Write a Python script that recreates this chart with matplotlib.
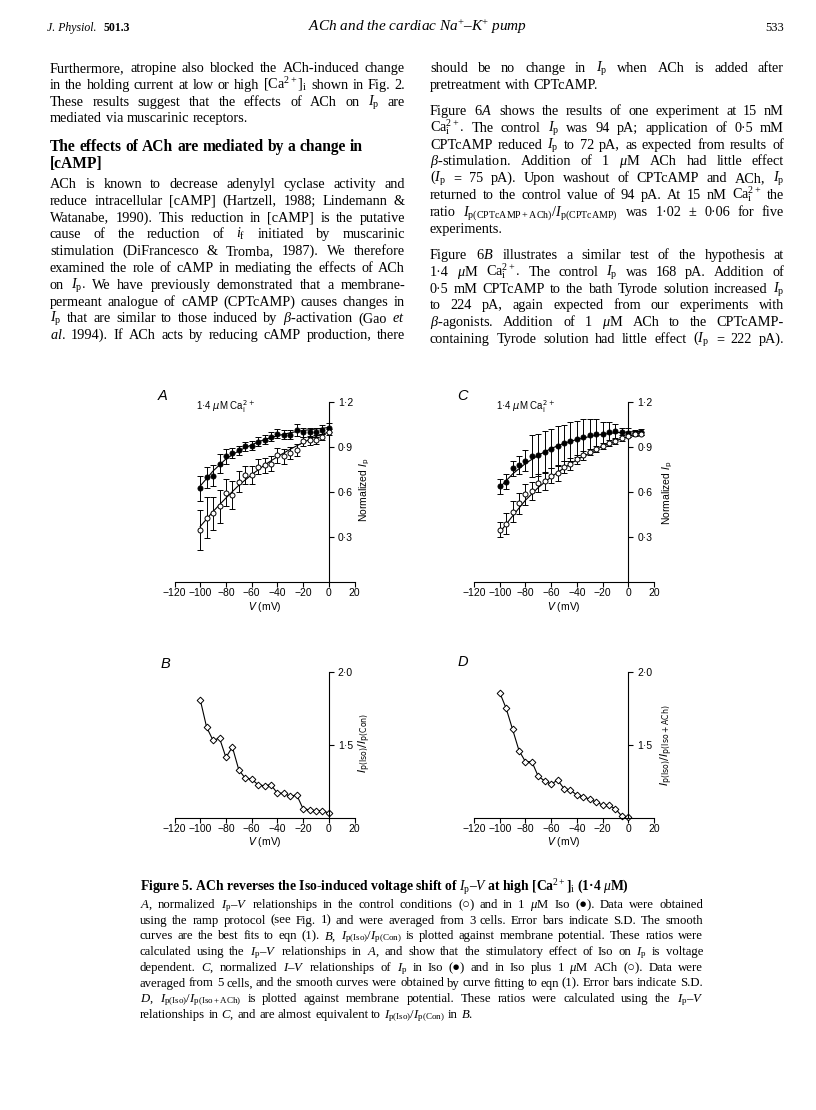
import matplotlib
matplotlib.use('Agg')
import matplotlib.pyplot as plt
from matplotlib.transforms import IdentityTransform

# ---- data ----
# panel A: normalized Ip-V, control (open) and 1 uM Iso (filled)
v_a = [-100, -95, -90, -85, -80, -75, -70, -65, -60, -55, -50,
       -45, -40, -35, -30, -25, -20, -15, -10, -5, 0]
iso_a = [0.625, 0.70, 0.71, 0.79, 0.84, 0.86, 0.88, 0.905, 0.91, 0.935, 0.95,
         0.967, 0.99, 0.983, 0.983, 1.015, 1.0, 1.0, 1.0, 1.015, 1.03]
iso_a_sd = [0.085, 0.07, 0.07, 0.065, 0.05, 0.035, 0.03, 0.03, 0.03, 0.03, 0.03,
            0.03, 0.03, 0.03, 0.03, 0.04, 0.03, 0.03, 0.03, 0.03, 0.03]
con_a = [0.347, 0.43, 0.458, 0.505, 0.595, 0.58, 0.67, 0.715, 0.713, 0.768, 0.78,
         0.79, 0.846, 0.84, 0.86, 0.883, 0.94, 0.945, 0.95, 0.967, 1.0]
con_a_sd = [0.135, 0.135, 0.11, 0.11, 0.09, 0.094, 0.07, 0.06, 0.06, 0.05, 0.05,
            0.05, 0.05, 0.05, 0.04, 0.04, 0.03, 0.03, 0.03, 0.02, 0.02]
fit_v_a = [-100, -90, -80, -70, -60, -50, -40, -30, -20, -10, 0]
fit_iso_a = [0.64, 0.74, 0.82, 0.875, 0.915, 0.95, 0.975, 0.995, 1.01, 1.02, 1.03]
fit_con_a = [0.37, 0.47, 0.56, 0.645, 0.715, 0.78, 0.835, 0.885, 0.93, 0.97, 1.0]

# panel B: Ip(Iso)/Ip(Con)
ratio_b = [1.81, 1.62, 1.53, 1.546, 1.413, 1.484, 1.328, 1.27, 1.264, 1.225, 1.218,
           1.225, 1.167, 1.167, 1.145, 1.156, 1.06, 1.053, 1.046, 1.048, 1.03]

# panel C: Iso (filled) and Iso + 1 uM ACh (open)
v_c = [-100, -95, -90, -85, -80, -75, -70, -65, -60, -55, -50, -45,
       -40, -35, -30, -25, -20, -15, -10, -5, 0, 5, 10]
iso_c = [0.64, 0.67, 0.76, 0.78, 0.81, 0.84, 0.85, 0.865, 0.89, 0.91, 0.93, 0.94,
         0.955, 0.968, 0.977, 0.986, 0.99, 1.0, 1.005, 1.0, 0.995, 0.995, 1.0]
iso_c_sd = [0.05, 0.05, 0.05, 0.06, 0.07, 0.14, 0.14, 0.14, 0.13, 0.13, 0.12, 0.13,
            0.12, 0.12, 0.11, 0.10, 0.08, 0.07, 0.05, 0.03, 0.03, 0.02, 0.02]
ach_c = [0.347, 0.387, 0.47, 0.525, 0.585, 0.607, 0.66, 0.673, 0.71, 0.724, 0.765, 0.79,
         0.818, 0.845, 0.865, 0.885, 0.905, 0.925, 0.942, 0.96, 0.975, 0.985, 0.99]
ach_c_sd = [0.05, 0.07, 0.07, 0.07, 0.07, 0.06, 0.06, 0.06, 0.05, 0.05, 0.04, 0.04,
            0.03, 0.03, 0.02, 0.02, 0.02, 0.02, 0.02, 0.02, 0.01, 0.01, 0.01]
fit_v_c = [-100, -90, -80, -70, -60, -50, -40, -30, -20, -10, 0, 10]
fit_iso_c = [0.63, 0.72, 0.79, 0.845, 0.89, 0.925, 0.95, 0.97, 0.985, 0.995, 1.0, 1.005]
fit_ach_c = [0.33, 0.44, 0.545, 0.63, 0.70, 0.76, 0.815, 0.86, 0.905, 0.94, 0.97, 0.995]

# panel D: Ip(Iso)/Ip(Iso+ACh)
ratio_d = [1.859, 1.75, 1.606, 1.46, 1.384, 1.384, 1.282, 1.252, 1.229, 1.257, 1.199,
           1.188, 1.155, 1.144, 1.125, 1.106, 1.086, 1.083, 1.06, 1.009, 1.002]

xticks = [-120, -100, -80, -60, -40, -20, 0, 20]
xticklabels = ['\u2212120', '\u2212100', '\u221280', '\u221260', '\u221240', '\u221220', '0', '20']
yticks_ac = [0.3, 0.6, 0.9, 1.2]
yticklabels_ac = ['0\u00b73', '0\u00b76', '0\u00b79', '1\u00b72']
yticks_bd = [1.5, 2.0]
yticklabels_bd = ['1\u00b75', '2\u00b70']

# ---- page text ----
left_par1 = [
    "Furthermore, atropine also blocked the ACh-induced change",
    "in the holding current at low or high [Ca$^{2+}$]$_{\\mathrm{i}}$ shown in Fig. 2.",
    "These results suggest that the effects of ACh on $I_{\\mathrm{p}}$ are",
    "mediated via muscarinic receptors.",
]
heading = ["The effects of ACh are mediated by a change in", "[cAMP]"]
left_par2 = [
    "ACh is known to decrease adenylyl cyclase activity and",
    "reduce intracellular [cAMP] (Hartzell, 1988; Lindemann &",
    "Watanabe, 1990). This reduction in [cAMP] is the putative",
    "cause of the reduction of $i_{\\mathrm{f}}$ initiated by muscarinic",
    "stimulation (DiFrancesco & Tromba, 1987). We therefore",
    "examined the role of cAMP in mediating the effects of ACh",
    "on $I_{\\mathrm{p}}$. We have previously demonstrated that a membrane-",
    "permeant analogue of cAMP (CPTcAMP) causes changes in",
    "$I_{\\mathrm{p}}$ that are similar to those induced by $\\beta$-activation (Gao $\\mathit{et}$",
    "$\\mathit{al}$. 1994). If ACh acts by reducing cAMP production, there",
]
right_par1 = [
    "should be no change in $I_{\\mathrm{p}}$ when ACh is added after",
    "pretreatment with CPTcAMP.",
]
right_par2 = [
    "Figure 6$\\mathit{A}$ shows the results of one experiment at 15 nM",
    "Ca$^{2+}_{\\mathrm{i}}$. The control $I_{\\mathrm{p}}$ was 94 pA; application of 0\u00b75 mM",
    "CPTcAMP reduced $I_{\\mathrm{p}}$ to 72 pA, as expected from results of",
    "$\\beta$-stimulation. Addition of 1 $\\mu$M ACh had little effect",
    "($I_{\\mathrm{p}}$ = 75 pA). Upon washout of CPTcAMP and ACh, $I_{\\mathrm{p}}$",
    "returned to the control value of 94 pA. At 15 nM Ca$^{2+}_{\\mathrm{i}}$ the",
    "ratio $I_{\\mathrm{p(CPTcAMP+ACh)}}/I_{\\mathrm{p(CPTcAMP)}}$ was 1\u00b702 \u00b1 0\u00b706 for five",
    "experiments.",
]
right_par3 = [
    "Figure 6$\\mathit{B}$ illustrates a similar test of the hypothesis at",
    "1\u00b74 $\\mu$M Ca$^{2+}_{\\mathrm{i}}$. The control $I_{\\mathrm{p}}$ was 168 pA. Addition of",
    "0\u00b75 mM CPTcAMP to the bath Tyrode solution increased $I_{\\mathrm{p}}$",
    "to 224 pA, again expected from our experiments with",
    "$\\beta$-agonists. Addition of 1 $\\mu$M ACh to the CPTcAMP-",
    "containing Tyrode solution had little effect ($I_{\\mathrm{p}}$ = 222 pA).",
]
caption_title = ("Figure 5. ACh reverses the Iso-induced voltage shift of "
                 "$I_{\\mathrm{p}}$\u2013$V$ at high [Ca$^{2+}$]$_{\\mathrm{i}}$ (1\u00b74 $\\mu$M)")
caption = [
    "$\\mathit{A}$, normalized $I_{\\mathrm{p}}$\u2013$V$ relationships in the control conditions (\u25cb) and in 1 $\\mu$M Iso (\u25cf). Data were obtained",
    "using the ramp protocol (see Fig. 1) and were averaged from 3 cells. Error bars indicate S.D. The smooth",
    "curves are the best fits to eqn (1). $\\mathit{B}$, $I_{\\mathrm{p(Iso)}}/I_{\\mathrm{p(Con)}}$ is plotted against membrane potential. These ratios were",
    "calculated using the $I_{\\mathrm{p}}$\u2013$V$ relationships in $\\mathit{A}$, and show that the stimulatory effect of Iso on $I_{\\mathrm{p}}$ is voltage",
    "dependent. $\\mathit{C}$, normalized $I$\u2013$V$ relationships of $I_{\\mathrm{p}}$ in Iso (\u25cf) and in Iso plus 1 $\\mu$M ACh (\u25cb). Data were",
    "averaged from 5 cells, and the smooth curves were obtained by curve fitting to eqn (1). Error bars indicate S.D.",
    "$\\mathit{D}$, $I_{\\mathrm{p(Iso)}}/I_{\\mathrm{p(Iso+ACh)}}$ is plotted against membrane potential. These ratios were calculated using the $I_{\\mathrm{p}}$\u2013$V$",
    "relationships in $\\mathit{C}$, and are almost equivalent to $I_{\\mathrm{p(Iso)}}/I_{\\mathrm{p(Con)}}$ in $\\mathit{B}$.",
]

plt.rcParams['font.family'] = ['Liberation Serif', 'DejaVu Serif']
plt.rcParams['mathtext.fontset'] = 'custom'
plt.rcParams['mathtext.rm'] = 'Liberation Serif'
plt.rcParams['mathtext.it'] = 'Liberation Serif:italic'
plt.rcParams['mathtext.bf'] = 'Liberation Serif:bold'

W, H = 816, 1110
fig = plt.figure(figsize=(W / 100, H / 100), dpi=100)
PX = IdentityTransform()
renderer = fig.canvas.get_renderer()


def write_line(x0, x1, y, line, justify=True, fontsize=10, min_gap=2.6, **kw):
    words = line.split(' ')
    ts = [fig.text(0, 0, w, transform=PX, ha='left', va='baseline', fontsize=fontsize, **kw)
          for w in words]
    size = fontsize
    while True:
        ws = [t.get_window_extent(renderer).width for t in ts]
        gap = 0.25 * size * 100 / 72
        if justify and len(words) > 1:
            gap = (x1 - x0 - sum(ws)) / (len(words) - 1)
        if gap >= min_gap or size < 6:
            break
        # line too long for the column: shrink it a little
        size -= 0.1
        for t in ts:
            t.set_fontsize(size)
    x = x0
    for t, w in zip(ts, ws):
        t.set_position((x, H - y))
        x += w + gap


def write_par(lines, x0, x1, y0, pitch, last_justify=False, justify=True, **kw):
    for i, line in enumerate(lines):
        last = i == len(lines) - 1
        j = justify and ((not last) or last_justify)
        write_line(x0, x1, y0 + i * pitch, line, justify=j, **kw)


# header
fig.text(47, H - 31, "J. Physiol.", transform=PX, fontsize=8.5, style='italic', va='baseline')
fig.text(104, H - 31, "501.3", transform=PX, fontsize=8.5, weight='bold', va='baseline')
fig.text(418, H - 31, "ACh and the cardiac Na$^{+}$\u2013K$^{+}$ pump", transform=PX,
         fontsize=11, style='italic', ha='center', va='baseline')
fig.text(784, H - 31, "533", transform=PX, fontsize=9, ha='right', va='baseline')

BODY = 10.3
pitch = 16.8
LX0, LX1 = 50, 405
RX0, RX1 = 430, 784
write_par(left_par1, LX0, LX1, 72, pitch, fontsize=BODY)
write_par(heading, LX0, LX1, 151, 17.5, justify=False, fontsize=11.2, weight='bold')
write_par(left_par2, LX0, LX1, 188, pitch, last_justify=True, fontsize=BODY)
write_par(right_par1, RX0, RX1, 72, pitch, fontsize=BODY)
write_par(right_par2, RX0, RX1, 115, pitch, fontsize=BODY)
write_par(right_par3, RX0, RX1, 259, pitch, last_justify=True, fontsize=BODY)

# caption
fig.text(140, H - 891, caption_title, transform=PX, fontsize=9.8, weight='bold', va='baseline')
write_par(caption, 140, 703, 908, 15.7, fontsize=9.2)

# ---- panels ----
SANS = 'Liberation Sans'
TICK = 7.5
ax_w = 180 / W


def style_axes(ax, yticks, yticklabels, ylim):
    ax.set_xlim(-120, 20)
    ax.set_ylim(*ylim)
    for s in ['top', 'left']:
        ax.spines[s].set_visible(False)
    ax.spines['right'].set_position(('data', 0))
    ax.spines['right'].set_bounds(ylim[0], ylim[1])
    for s in ['right', 'bottom']:
        ax.spines[s].set_linewidth(0.8)
    ax.yaxis.tick_right()
    ax.set_xticks(xticks)
    ax.set_xticklabels(xticklabels, fontfamily=SANS, fontsize=TICK)
    ax.set_yticks(yticks)
    ax.set_yticklabels(yticklabels, fontfamily=SANS, fontsize=TICK)
    ax.tick_params(axis='x', direction='out', length=3.5, width=0.8, pad=1)
    ax.tick_params(axis='y', direction='out', length=3.5, width=0.8, pad=3)
    ax.set_xlabel('$V$ (mV)', fontfamily=SANS, fontsize=TICK, labelpad=1,
                  math_fontfamily='dejavusans')
    ax.patch.set_alpha(0)


def ip_panel(left_px, v, filled, filled_sd, opened, opened_sd, fv, ffit, ofit):
    ax = fig.add_axes([left_px / W, 1 - 582 / H, ax_w, 180 / H])
    style_axes(ax, yticks_ac, yticklabels_ac, (0, 1.2))
    ax.plot(fv, ffit, color='black', lw=0.8, zorder=2)
    ax.plot(fv, ofit, color='black', lw=0.8, zorder=2)
    ax.errorbar(v, filled, yerr=filled_sd, fmt='o', ms=3.6, mfc='black', mec='black',
                mew=0.7, ecolor='black', elinewidth=0.7, capsize=2.5, capthick=0.7, zorder=3)
    ax.errorbar(v, opened, yerr=opened_sd, fmt='o', ms=3.6, mfc='white', mec='black',
                mew=0.7, ecolor='black', elinewidth=0.7, capsize=2.5, capthick=0.7, zorder=4)
    ax.text(-103, 1.17, "1\u00b74 $\\mu$M Ca$^{2+}_{\\mathrm{i}}$", fontfamily=SANS, fontsize=7,
            math_fontfamily='dejavusans', va='center')
    return ax


def ratio_panel(left_px, v, ratio):
    ax = fig.add_axes([left_px / W, 1 - 817.5 / H, ax_w, 145.5 / H])
    style_axes(ax, yticks_bd, yticklabels_bd, (1.0, 2.0))
    ax.plot(v, ratio, color='black', lw=0.8, marker='D', ms=3.4, mfc='white',
            mec='black', mew=0.7, clip_on=False)
    return ax


ip_panel(174.5, v_a, iso_a, iso_a_sd, con_a, con_a_sd, fit_v_a, fit_iso_a, fit_con_a)
ip_panel(474, v_c, iso_c, iso_c_sd, ach_c, ach_c_sd, fit_v_c, fit_iso_c, fit_ach_c)
ratio_panel(174.5, v_a, ratio_b)
ratio_panel(474, v_a, ratio_d)

# panel letters and y labels
for lx, ly, letter in [(163, 396, 'A'), (165, 664, 'B'), (462, 396, 'C'), (463, 662, 'D')]:
    fig.text(lx, H - ly, letter, transform=PX, fontfamily=SANS, fontsize=10.5,
             style='italic', ha='center', va='center')
for lx, ly in [(365, 490), (668, 493)]:
    fig.text(lx, H - ly, "Normalized $I_{\\mathrm{p}}$", transform=PX, fontfamily=SANS,
             fontsize=7.5, rotation=90, ha='center', va='center', math_fontfamily='dejavusans')
fig.text(365, H - 743, "$I_{\\mathrm{p(Iso)}}/I_{\\mathrm{p(Con)}}$", transform=PX, fontsize=8,
         rotation=90, ha='center', va='center', math_fontfamily='dejavusans')
fig.text(667, H - 745, "$I_{\\mathrm{p(Iso)}}/I_{\\mathrm{p(Iso+ACh)}}$", transform=PX, fontsize=8,
         rotation=90, ha='center', va='center', math_fontfamily='dejavusans')

fig.savefig('out.png', dpi=100)
